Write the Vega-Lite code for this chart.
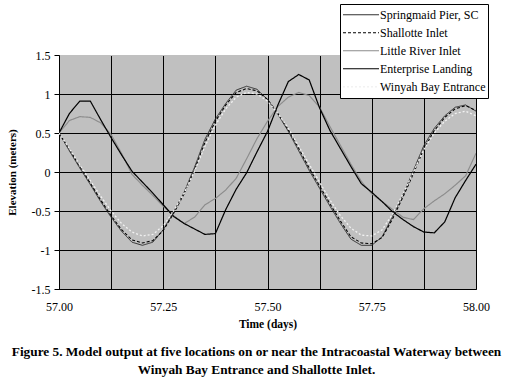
{
  "$schema": "https://vega.github.io/schema/vega-lite/v6.json",
  "autosize": "none",
  "width": 417,
  "height": 234,
  "padding": {"left": 59, "top": 55, "right": 40, "bottom": 92},
  "background": "white",
  "config": {
    "view": {"fill": "#c0c0c0", "stroke": null},
    "legend": {"labelFont": "Liberation Serif", "labelFontSize": 12, "labelColor": "black", "titleFont": "Liberation Serif"}
  },
  "title": {
    "text": ["Figure 5.  Model output at five locations on or near the Intracoastal Waterway between", "Winyah Bay Entrance and Shallotte Inlet."],
    "orient": "bottom", "anchor": "middle", "frame": "group", "dx": -11, "offset": 15,
    "font": "Liberation Serif", "fontSize": 13.3, "fontWeight": "bold", "lineHeight": 18, "color": "black"
  },
  "data": {"values": [
    {"t": 57.000, "Springmaid Pier, SC": 0.50, "Shallotte Inlet": 0.50, "Little River Inlet": 0.50, "Enterprise Landing": 0.50, "Winyah Bay Entrance": 0.50},
    {"t": 57.025, "Springmaid Pier, SC": 0.27, "Shallotte Inlet": 0.29, "Little River Inlet": 0.66, "Enterprise Landing": 0.75, "Winyah Bay Entrance": 0.30},
    {"t": 57.050, "Springmaid Pier, SC": 0.05, "Shallotte Inlet": 0.07, "Little River Inlet": 0.71, "Enterprise Landing": 0.91, "Winyah Bay Entrance": 0.09},
    {"t": 57.075, "Springmaid Pier, SC": -0.16, "Shallotte Inlet": -0.14, "Little River Inlet": 0.70, "Enterprise Landing": 0.91, "Winyah Bay Entrance": -0.11},
    {"t": 57.100, "Springmaid Pier, SC": -0.38, "Shallotte Inlet": -0.36, "Little River Inlet": 0.63, "Enterprise Landing": 0.67, "Winyah Bay Entrance": -0.31},
    {"t": 57.125, "Springmaid Pier, SC": -0.58, "Shallotte Inlet": -0.56, "Little River Inlet": 0.48, "Enterprise Landing": 0.44, "Winyah Bay Entrance": -0.50},
    {"t": 57.150, "Springmaid Pier, SC": -0.76, "Shallotte Inlet": -0.74, "Little River Inlet": 0.24, "Enterprise Landing": 0.22, "Winyah Bay Entrance": -0.66},
    {"t": 57.175, "Springmaid Pier, SC": -0.90, "Shallotte Inlet": -0.87, "Little River Inlet": -0.03, "Enterprise Landing": 0.01, "Winyah Bay Entrance": -0.77},
    {"t": 57.200, "Springmaid Pier, SC": -0.94, "Shallotte Inlet": -0.91, "Little River Inlet": -0.17, "Enterprise Landing": -0.13, "Winyah Bay Entrance": -0.82},
    {"t": 57.225, "Springmaid Pier, SC": -0.90, "Shallotte Inlet": -0.88, "Little River Inlet": -0.30, "Enterprise Landing": -0.27, "Winyah Bay Entrance": -0.80},
    {"t": 57.250, "Springmaid Pier, SC": -0.74, "Shallotte Inlet": -0.75, "Little River Inlet": -0.44, "Enterprise Landing": -0.42, "Winyah Bay Entrance": -0.69},
    {"t": 57.275, "Springmaid Pier, SC": -0.51, "Shallotte Inlet": -0.53, "Little River Inlet": -0.56, "Enterprise Landing": -0.57, "Winyah Bay Entrance": -0.50},
    {"t": 57.300, "Springmaid Pier, SC": -0.26, "Shallotte Inlet": -0.28, "Little River Inlet": -0.66, "Enterprise Landing": -0.66, "Winyah Bay Entrance": -0.27},
    {"t": 57.325, "Springmaid Pier, SC": 0.06, "Shallotte Inlet": 0.03, "Little River Inlet": -0.58, "Enterprise Landing": -0.73, "Winyah Bay Entrance": 0.01},
    {"t": 57.350, "Springmaid Pier, SC": 0.42, "Shallotte Inlet": 0.38, "Little River Inlet": -0.42, "Enterprise Landing": -0.80, "Winyah Bay Entrance": 0.33},
    {"t": 57.375, "Springmaid Pier, SC": 0.68, "Shallotte Inlet": 0.65, "Little River Inlet": -0.34, "Enterprise Landing": -0.79, "Winyah Bay Entrance": 0.60},
    {"t": 57.400, "Springmaid Pier, SC": 0.88, "Shallotte Inlet": 0.86, "Little River Inlet": -0.23, "Enterprise Landing": -0.48, "Winyah Bay Entrance": 0.81},
    {"t": 57.425, "Springmaid Pier, SC": 1.05, "Shallotte Inlet": 1.02, "Little River Inlet": -0.08, "Enterprise Landing": -0.22, "Winyah Bay Entrance": 0.96},
    {"t": 57.450, "Springmaid Pier, SC": 1.10, "Shallotte Inlet": 1.07, "Little River Inlet": 0.17, "Enterprise Landing": -0.01, "Winyah Bay Entrance": 1.02},
    {"t": 57.475, "Springmaid Pier, SC": 1.06, "Shallotte Inlet": 1.04, "Little River Inlet": 0.43, "Enterprise Landing": 0.26, "Winyah Bay Entrance": 1.00},
    {"t": 57.500, "Springmaid Pier, SC": 0.93, "Shallotte Inlet": 0.93, "Little River Inlet": 0.65, "Enterprise Landing": 0.52, "Winyah Bay Entrance": 0.91},
    {"t": 57.525, "Springmaid Pier, SC": 0.74, "Shallotte Inlet": 0.75, "Little River Inlet": 0.84, "Enterprise Landing": 0.86, "Winyah Bay Entrance": 0.75},
    {"t": 57.550, "Springmaid Pier, SC": 0.52, "Shallotte Inlet": 0.54, "Little River Inlet": 0.96, "Enterprise Landing": 1.16, "Winyah Bay Entrance": 0.56},
    {"t": 57.575, "Springmaid Pier, SC": 0.27, "Shallotte Inlet": 0.30, "Little River Inlet": 1.02, "Enterprise Landing": 1.25, "Winyah Bay Entrance": 0.33},
    {"t": 57.600, "Springmaid Pier, SC": 0.02, "Shallotte Inlet": 0.05, "Little River Inlet": 0.98, "Enterprise Landing": 1.18, "Winyah Bay Entrance": 0.10},
    {"t": 57.625, "Springmaid Pier, SC": -0.21, "Shallotte Inlet": -0.18, "Little River Inlet": 0.83, "Enterprise Landing": 0.82, "Winyah Bay Entrance": -0.13},
    {"t": 57.650, "Springmaid Pier, SC": -0.44, "Shallotte Inlet": -0.41, "Little River Inlet": 0.58, "Enterprise Landing": 0.53, "Winyah Bay Entrance": -0.36},
    {"t": 57.675, "Springmaid Pier, SC": -0.66, "Shallotte Inlet": -0.63, "Little River Inlet": 0.34, "Enterprise Landing": 0.30, "Winyah Bay Entrance": -0.56},
    {"t": 57.700, "Springmaid Pier, SC": -0.86, "Shallotte Inlet": -0.83, "Little River Inlet": 0.10, "Enterprise Landing": 0.07, "Winyah Bay Entrance": -0.72},
    {"t": 57.725, "Springmaid Pier, SC": -0.94, "Shallotte Inlet": -0.91, "Little River Inlet": -0.12, "Enterprise Landing": -0.15, "Winyah Bay Entrance": -0.81},
    {"t": 57.750, "Springmaid Pier, SC": -0.94, "Shallotte Inlet": -0.92, "Little River Inlet": -0.28, "Enterprise Landing": -0.26, "Winyah Bay Entrance": -0.82},
    {"t": 57.775, "Springmaid Pier, SC": -0.83, "Shallotte Inlet": -0.84, "Little River Inlet": -0.38, "Enterprise Landing": -0.38, "Winyah Bay Entrance": -0.74},
    {"t": 57.800, "Springmaid Pier, SC": -0.57, "Shallotte Inlet": -0.60, "Little River Inlet": -0.48, "Enterprise Landing": -0.51, "Winyah Bay Entrance": -0.54},
    {"t": 57.825, "Springmaid Pier, SC": -0.29, "Shallotte Inlet": -0.32, "Little River Inlet": -0.58, "Enterprise Landing": -0.61, "Winyah Bay Entrance": -0.28},
    {"t": 57.850, "Springmaid Pier, SC": 0.02, "Shallotte Inlet": -0.02, "Little River Inlet": -0.61, "Enterprise Landing": -0.70, "Winyah Bay Entrance": 0.00},
    {"t": 57.875, "Springmaid Pier, SC": 0.34, "Shallotte Inlet": 0.30, "Little River Inlet": -0.47, "Enterprise Landing": -0.77, "Winyah Bay Entrance": 0.29},
    {"t": 57.900, "Springmaid Pier, SC": 0.56, "Shallotte Inlet": 0.53, "Little River Inlet": -0.37, "Enterprise Landing": -0.78, "Winyah Bay Entrance": 0.50},
    {"t": 57.925, "Springmaid Pier, SC": 0.72, "Shallotte Inlet": 0.70, "Little River Inlet": -0.28, "Enterprise Landing": -0.64, "Winyah Bay Entrance": 0.65},
    {"t": 57.950, "Springmaid Pier, SC": 0.83, "Shallotte Inlet": 0.81, "Little River Inlet": -0.17, "Enterprise Landing": -0.33, "Winyah Bay Entrance": 0.75},
    {"t": 57.975, "Springmaid Pier, SC": 0.86, "Shallotte Inlet": 0.85, "Little River Inlet": -0.05, "Enterprise Landing": -0.11, "Winyah Bay Entrance": 0.78},
    {"t": 58.000, "Springmaid Pier, SC": 0.78, "Shallotte Inlet": 0.79, "Little River Inlet": 0.24, "Enterprise Landing": 0.10, "Winyah Bay Entrance": 0.72}
  ]},
  "transform": [
    {"fold": ["Springmaid Pier, SC", "Shallotte Inlet", "Little River Inlet", "Enterprise Landing", "Winyah Bay Entrance"], "as": ["series", "elev"]}
  ],
  "mark": {"type": "line", "clip": true},
  "encoding": {
    "x": {
      "field": "t", "type": "quantitative",
      "scale": {"domain": [57, 58], "nice": false, "zero": false},
      "axis": {
        "title": "Time (days)",
        "values": [57, 57.125, 57.25, 57.375, 57.5, 57.625, 57.75, 57.875, 58],
        "labelExpr": "round(datum.value * 8) % 2 == 0 ? format(datum.value, '.2f') : ''",
        "grid": true, "gridColor": "black", "gridWidth": 1,
        "ticks": false, "domainColor": "black", "domainWidth": 1,
        "labelFont": "Liberation Serif", "labelFontSize": 12, "labelColor": "black", "labelPadding": 12,
        "labelFlush": false, "labelOverlap": false,
        "titleFont": "Liberation Serif", "titleFontSize": 11.5, "titleFontWeight": "bold", "titleColor": "black", "titlePadding": 6
      }
    },
    "y": {
      "field": "elev", "type": "quantitative",
      "scale": {"domain": [-1.5, 1.5], "nice": false},
      "axis": {
        "title": "Elevation (meters)",
        "values": [-1.5, -1, -0.5, 0, 0.5, 1, 1.5],
        "labelExpr": "datum.value < 0 ? '-' + format(-datum.value, '~g') : format(datum.value, '~g')",
        "grid": true,
        "gridColor": {"condition": {"test": "datum.value === 1.5", "value": "#c0c0c0"}, "value": "black"},
        "gridWidth": 1,
        "ticks": true, "tickSize": 5, "tickColor": "black", "domainColor": "black", "domainWidth": 1,
        "labelFont": "Liberation Serif", "labelFontSize": 12, "labelColor": "black", "labelPadding": 4,
        "labelFlush": false, "labelOverlap": false,
        "titleFont": "Liberation Serif", "titleFontSize": 11, "titleFontWeight": "bold", "titleColor": "black", "titlePadding": 14
      }
    },
    "color": {
      "field": "series", "type": "nominal",
      "scale": {
        "domain": ["Springmaid Pier, SC", "Shallotte Inlet", "Little River Inlet", "Enterprise Landing", "Winyah Bay Entrance"],
        "range": ["#303030", "#000000", "#8c8c8c", "#000000", "#f2f2f2"]
      },
      "legend": {
        "title": null, "orient": "none", "legendX": 281, "legendY": -51,
        "fillColor": "white", "strokeColor": "black", "padding": 2,
        "symbolType": "stroke", "symbolSize": 1296, "clipHeight": 17.5, "rowPadding": -1.2,
        "labelFont": "Liberation Serif", "labelFontSize": 12, "labelColor": "black", "labelOffset": 0,
        "symbolOffset": 0,
        "encode": {
          "labels": {"update": {"font": {"value": "Liberation Serif"}}},
          "symbols": {"update": {"stroke": [{"test": "datum.label === 'Winyah Bay Entrance'", "value": "#a0a0a0"}, {"scale": "color", "field": "value"}]}}
        }
      }
    },
    "strokeDash": {
      "field": "series", "type": "nominal",
      "scale": {
        "domain": ["Springmaid Pier, SC", "Shallotte Inlet", "Little River Inlet", "Enterprise Landing", "Winyah Bay Entrance"],
        "range": [[1, 0], [3, 2], [1, 0], [1, 0], [2, 2]]
      }
    },
    "strokeWidth": {
      "field": "series", "type": "nominal",
      "scale": {
        "domain": ["Springmaid Pier, SC", "Shallotte Inlet", "Little River Inlet", "Enterprise Landing", "Winyah Bay Entrance"],
        "range": [1, 1.3, 2, 2, 2]
      }
    }
  }
}
